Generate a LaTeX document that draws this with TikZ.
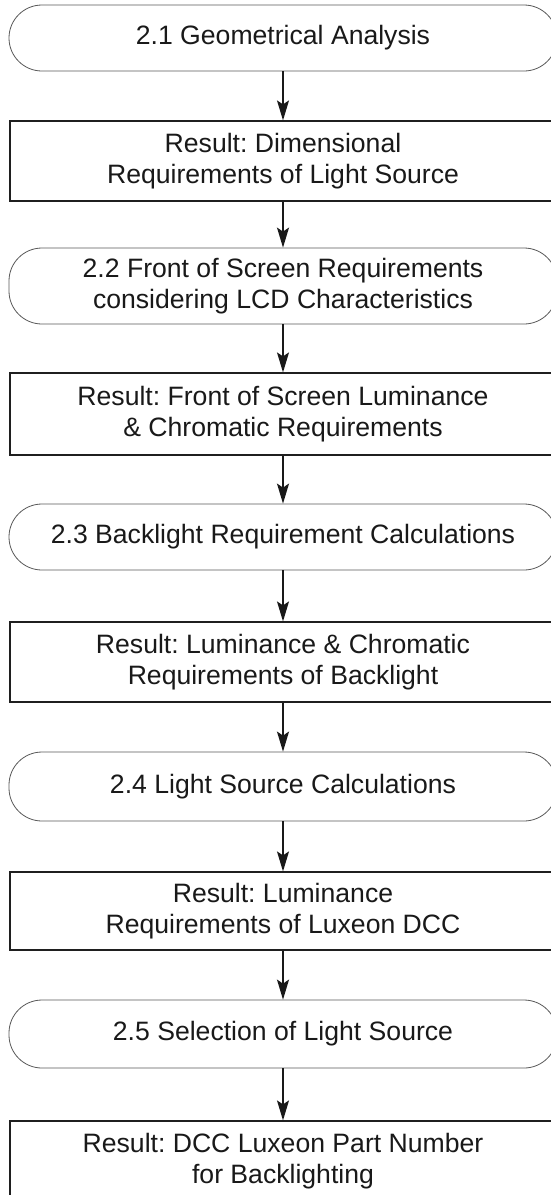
\documentclass[tikz,border=0pt]{standalone}
\usepackage{fontspec}
\setmainfont{Liberation Sans}
\usetikzlibrary{arrows.meta}
\begin{document}
\frenchspacing
\begin{tikzpicture}[x=1pt,y=-1pt,
  txt/.style={align=center,font=\fontsize{26.6}{31.5}\selectfont\frenchspacing,text=black!90,inner sep=0pt},
  stadium/.style={txt,draw=black!65,line width=0.8pt,minimum width=548pt,rounded corners=33pt},
  resbox/.style={txt,draw=black!88,line width=1.2pt,minimum width=546pt},
  arr/.style={draw=black!90,line width=1.5pt,-{Stealth[length=20pt,width=12pt,inset=4pt]}}
]
\useasboundingbox (0,0) rectangle (551,1195);
\clip (0,0) rectangle (551,1195);
\fill[white] (0,0) rectangle (551,1195);
\node[stadium,minimum height=66pt] (s1) at (283,38) {2.1 Geometrical Analysis};
\node[resbox,minimum height=80pt] (r1) at (283,161) {Result: Dimensional\\Requirements of Light Source};
\node[stadium,minimum height=76pt] (s2) at (283,286) {2.2 Front of Screen Requirements\\considering LCD Characteristics};
\node[resbox,minimum height=82pt] (r2) at (283,414) {Result: Front of Screen Luminance\\\& Chromatic Requirements};
\node[stadium,minimum height=66pt] (s3) at (283,537) {2.3 Backlight Requirement Calculations};
\node[resbox,minimum height=80pt] (r3) at (283,662) {Result: Luminance \& Chromatic\\Requirements of Backlight};
\node[stadium,minimum height=69pt] (s4) at (283,786.5) {2.4 Light Source Calculations};
\node[resbox,minimum height=78pt] (r4) at (283,911) {Result: Luminance\\Requirements of Luxeon DCC};
\node[stadium,minimum height=68pt] (s5) at (283,1034) {2.5 Selection of Light Source};
\node[resbox,minimum height=80pt] (r5) at (283,1161) {Result: DCC Luxeon Part Number\\for Backlighting};
\draw[arr] (s1) -- (r1);
\draw[arr] (r1) -- (s2);
\draw[arr] (s2) -- (r2);
\draw[arr] (r2) -- (s3);
\draw[arr] (s3) -- (r3);
\draw[arr] (r3) -- (s4);
\draw[arr] (s4) -- (r4);
\draw[arr] (r4) -- (s5);
\draw[arr] (s5) -- (r5);
\end{tikzpicture}
\end{document}
